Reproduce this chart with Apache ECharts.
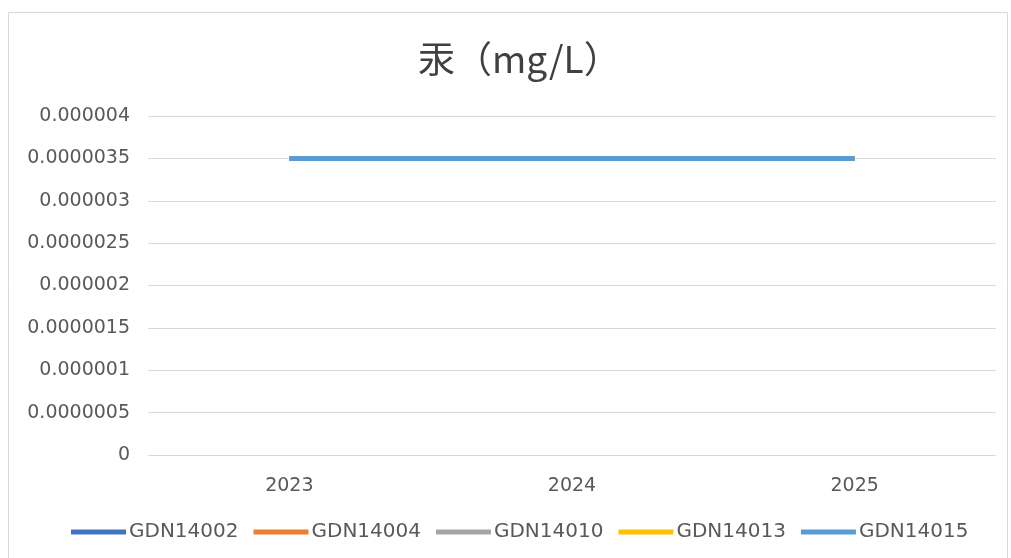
<!DOCTYPE html>
<html><head><meta charset="utf-8">
<script src="https://cdn.jsdelivr.net/npm/echarts@6/dist/echarts.min.js"></script>
<style>html,body{margin:0;padding:0;background:#fff;}#c{width:1011px;height:558px;}</style>
</head><body><div id="c"></div>
<script>
const titleText = '汞（mg/L）';
const categories = ['2023', '2024', '2025'];
const seriesNames = ['GDN14002', 'GDN14004', 'GDN14010', 'GDN14013', 'GDN14015'];
const colors = ['#4472C4', '#ED7D31', '#A5A5A5', '#FFC000', '#5B9BD5'];
const GDN14002 = [0.0000035, 0.0000035, 0.0000035];
const GDN14004 = [0.0000035, 0.0000035, 0.0000035];
const GDN14010 = [0.0000035, 0.0000035, 0.0000035];
const GDN14013 = [0.0000035, 0.0000035, 0.0000035];
const GDN14015 = [0.0000035, 0.0000035, 0.0000035];
const values = [GDN14002, GDN14004, GDN14010, GDN14013, GDN14015];
const yMin = 0, yMax = 0.000004, yInterval = 0.0000005;

function fmt(v){
  if (v === 0) return '0';
  return v.toFixed(7).replace(/0+$/,'').replace(/\.$/,'');
}
const font = '"DejaVu Sans", "Noto Sans", sans-serif';
const titleFont = '"Noto Sans CJK SC", "Noto Sans", sans-serif';
const chart = echarts.init(document.getElementById('c'));
chart.setOption({
  animation: false,
  backgroundColor: '#fff',
  title: {
    text: titleText, left: 413, top: 35,
    textStyle: {fontFamily: titleFont, fontSize: 37, fontWeight: 'normal', color: '#404040'}
  },
  graphic: [{
    type: 'rect', shape: {x: 8.5, y: 12.5, width: 999, height: 560},
    style: {fill: 'none', stroke: '#d9d9d9', lineWidth: 1}, silent: true
  }],
  legend: {
    bottom: 11, left: 66, itemWidth: 55, itemHeight: 5, itemGap: 15,
    icon: 'rect',
    textStyle: {fontFamily: font, fontSize: 20, color: '#595959', padding: [0,0,0,-2]},
    data: seriesNames
  },
  grid: {left: 148, right: 15, top: 116, bottom: 103, containLabel: false},
  xAxis: {
    type: 'category', data: categories, boundaryGap: true,
    axisLine: {lineStyle: {color: '#d9d9d9', width: 1}},
    axisTick: {show: false},
    axisLabel: {fontFamily: font, fontSize: 19, color: '#595959', margin: 22}
  },
  yAxis: {
    type: 'value', min: yMin, max: yMax, interval: yInterval,
    axisLine: {show: false}, axisTick: {show: false},
    splitLine: {lineStyle: {color: '#d9d9d9', width: 1}},
    axisLabel: {fontFamily: font, fontSize: 19, color: '#595959', margin: 18, formatter: fmt}
  },
  series: seriesNames.map((n, i) => ({
    name: n, type: 'line', data: values[i], color: colors[i],
    symbol: 'none', lineStyle: {width: 5, color: colors[i]}
  }))
});
</script></body></html>
